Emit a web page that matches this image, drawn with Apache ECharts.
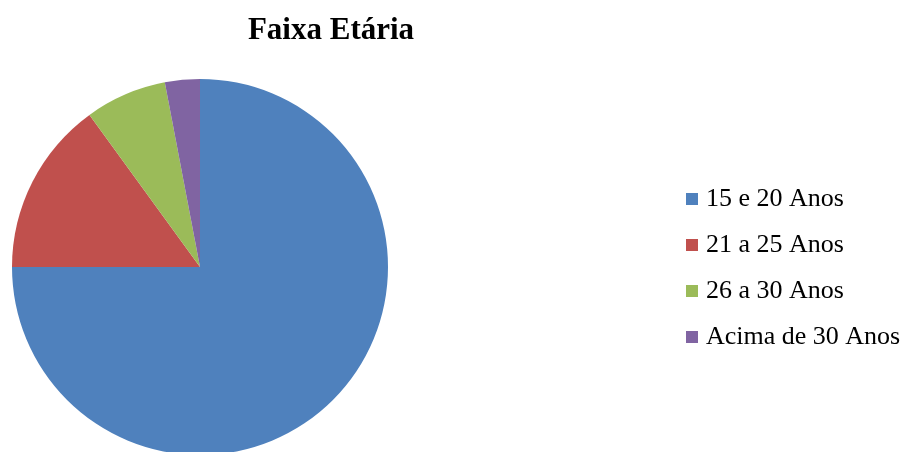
<!DOCTYPE html>
<html>
<head>
<meta charset="utf-8">
<style>
  html, body { margin: 0; padding: 0; background: #fff; }
  #chart { width: 916px; height: 452px; }
</style>
<script src="https://cdn.jsdelivr.net/npm/echarts@6/dist/echarts.min.js"></script>
</head>
<body>
<div id="chart"></div>
<script>
// Age-group distribution (percent of respondents)
const categories = ['15 e 20 Anos', '21 a 25 Anos', '26 a 30 Anos', 'Acima de 30 Anos'];
const values = [75, 15, 7, 3];
const colors = ['#4F81BD', '#C0504D', '#9BBB59', '#8064A2'];

const chart = echarts.init(document.getElementById('chart'), null, { renderer: 'canvas' });

chart.setOption({
  animation: false,
  backgroundColor: '#ffffff',
  color: colors,
  title: {
    text: 'Faixa Etária',
    left: 326,
    top: 10,
    textAlign: 'center',
    textStyle: {
      fontFamily: 'Liberation Serif',
      fontWeight: 'bold',
      fontSize: 31,
      color: '#000'
    }
  },
  legend: {
    orient: 'vertical',
    left: 686,
    top: 186,
    padding: 0,
    icon: 'rect',
    itemWidth: 12,
    itemHeight: 12,
    itemGap: 20,
    textStyle: {
      fontFamily: 'Liberation Serif',
      fontSize: 26,
      lineHeight: 26,
      color: '#000',
      padding: [0, 0, 0, 3]
    },
    data: categories
  },
  series: [{
    type: 'pie',
    center: [200, 267],
    radius: 188,
    startAngle: 90,
    clockwise: true,
    label: { show: false },
    labelLine: { show: false },
    itemStyle: { borderWidth: 0 },
    emphasis: { disabled: true },
    data: categories.map((name, i) => ({ name, value: values[i] }))
  }]
});
</script>
</body>
</html>
